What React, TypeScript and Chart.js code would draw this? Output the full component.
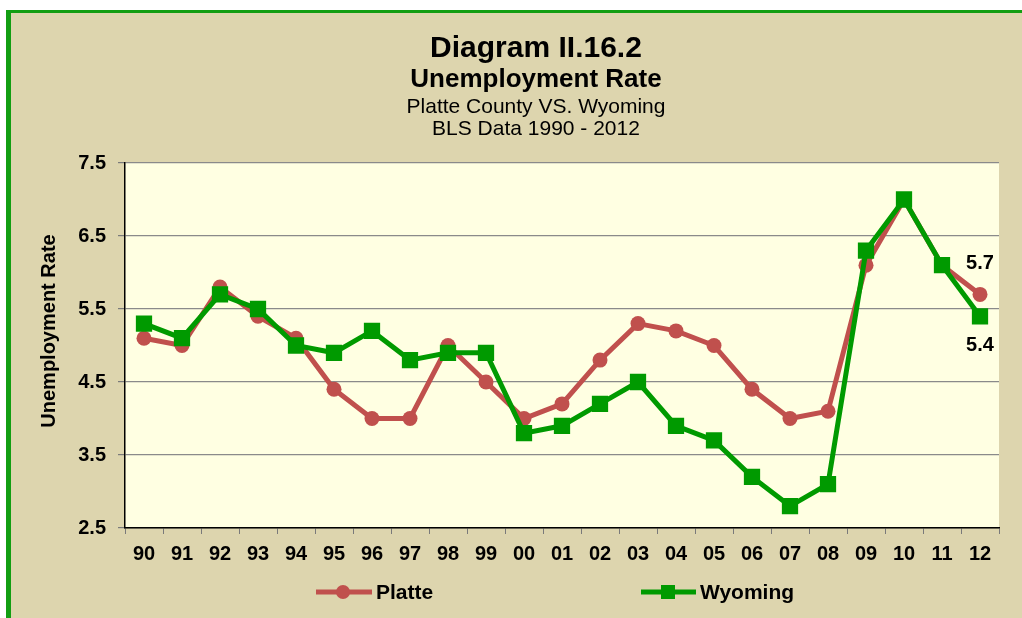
import React, { useEffect, useRef } from 'react';
import { Chart, registerables } from 'chart.js';

Chart.register(...registerables);

const years = ['90', '91', '92', '93', '94', '95', '96', '97', '98', '99', '00', '01', '02', '03', '04', '05', '06', '07', '08', '09', '10', '11', '12'];
const platte = [5.1, 5.0, 5.8, 5.4, 5.1, 4.4, 4.0, 4.0, 5.0, 4.5, 4.0, 4.2, 4.8, 5.3, 5.2, 5.0, 4.4, 4.0, 4.1, 6.1, 7.0, 6.1, 5.7];
const wyoming = [5.3, 5.1, 5.7, 5.5, 5.0, 4.9, 5.2, 4.8, 4.9, 4.9, 3.8, 3.9, 4.2, 4.5, 3.9, 3.7, 3.2, 2.8, 3.1, 6.3, 7.0, 6.1, 5.4];
const yTicks = [2.5, 3.5, 4.5, 5.5, 6.5, 7.5];
const titleLines = ['Diagram II.16.2', 'Unemployment Rate', 'Platte County VS. Wyoming', 'BLS Data 1990 - 2012'];
const yAxisTitle = 'Unemployment Rate';
const seriesNames = ['Platte', 'Wyoming'];

const RED = '#C0504D';
const GREEN = '#009A00';
const TAN = '#DDD5AE';
const PLOT_BG = '#FFFFE2';
const BORDER_GREEN = '#129E12';
const FONT = '"Liberation Sans", Arial, sans-serif';

const decorPlugin = {
  id: 'decor',
  beforeDraw(chart: any) {
    const ctx = chart.ctx;
    const { width, height } = chart;
    ctx.save();
    ctx.fillStyle = '#FFFFFF';
    ctx.fillRect(0, 0, width, height);
    ctx.fillStyle = TAN;
    ctx.fillRect(11, 13, width - 11, height - 13);
    ctx.fillStyle = BORDER_GREEN;
    ctx.fillRect(6, 10, 5, height - 10);
    ctx.fillRect(6, 10, width - 6, 3);
    const a = chart.chartArea;
    ctx.fillStyle = PLOT_BG;
    ctx.fillRect(a.left, a.top, a.right - a.left, a.bottom - a.top);
    ctx.restore();
  },
  afterDraw(chart: any) {
    const ctx = chart.ctx;
    ctx.save();
    ctx.fillStyle = '#000';
    ctx.textAlign = 'center';
    ctx.textBaseline = 'alphabetic';
    const cx = 536;
    ctx.font = `bold 30px ${FONT}`;
    ctx.fillText(titleLines[0], cx, 57);
    ctx.font = `bold 26px ${FONT}`;
    ctx.fillText(titleLines[1], cx, 87);
    ctx.font = `21px ${FONT}`;
    ctx.fillText(titleLines[2], cx, 113);
    ctx.fillText(titleLines[3], cx, 135);

    // y axis title
    ctx.save();
    ctx.translate(49, 331);
    ctx.rotate(-Math.PI / 2);
    ctx.font = `bold 20px ${FONT}`;
    ctx.textBaseline = 'middle';
    ctx.fillText(yAxisTitle, 0, 0);
    ctx.restore();

    // data labels on last points
    ctx.font = `bold 20px ${FONT}`;
    ctx.textBaseline = 'middle';
    const mP = chart.getDatasetMeta(1);
    const mW = chart.getDatasetMeta(0);
    const pP = mP.data[mP.data.length - 1];
    const pW = mW.data[mW.data.length - 1];
    ctx.fillText(platte[platte.length - 1].toFixed(1), pP.x, pP.y - 31);
    ctx.fillText(wyoming[wyoming.length - 1].toFixed(1), pW.x, pW.y + 29);

    // legend
    const ly = 592;
    ctx.lineWidth = 5;
    ctx.strokeStyle = RED;
    ctx.beginPath();
    ctx.moveTo(316, ly);
    ctx.lineTo(372, ly);
    ctx.stroke();
    ctx.fillStyle = RED;
    ctx.beginPath();
    ctx.arc(343, ly, 7, 0, Math.PI * 2);
    ctx.fill();
    ctx.strokeStyle = GREEN;
    ctx.beginPath();
    ctx.moveTo(641, ly);
    ctx.lineTo(696, ly);
    ctx.stroke();
    ctx.fillStyle = GREEN;
    ctx.fillRect(668 - 7, ly - 7, 14, 14);
    ctx.fillStyle = '#000';
    ctx.textAlign = 'left';
    ctx.textBaseline = 'alphabetic';
    ctx.font = `bold 21px ${FONT}`;
    ctx.fillText(seriesNames[0], 376, 599);
    ctx.fillText(seriesNames[1], 700, 599);
    ctx.restore();
  },
};

export default function App() {
  const ref = useRef<HTMLCanvasElement>(null);
  useEffect(() => {
    if (!ref.current) return;
    const chart = new Chart(ref.current, {
      type: 'line',
      data: {
        labels: years,
        datasets: [
          {
            label: seriesNames[1],
            data: wyoming,
            borderColor: GREEN,
            backgroundColor: GREEN,
            borderWidth: 5,
            pointStyle: 'rect',
            pointRadius: 11.5,
            pointBorderWidth: 0,
            tension: 0,
          },
          {
            label: seriesNames[0],
            data: platte,
            borderColor: RED,
            backgroundColor: RED,
            borderWidth: 5,
            pointStyle: 'circle',
            pointRadius: 7.5,
            pointBorderWidth: 0,
            tension: 0,
          },
        ],
      },
      options: {
        responsive: false,
        animation: false,
        events: [],
        layout: { padding: { top: 163, right: 23, left: 0, bottom: 0 } },
        plugins: { legend: { display: false }, title: { display: false }, tooltip: { enabled: false } },
        scales: {
          x: {
            type: 'category',
            offset: true,
            afterFit: (s: any) => { s.height = 90; },
            grid: { offset: true, drawOnChartArea: false, tickLength: 6, color: '#7a7a7a', tickColor: '#7a7a7a' },
            border: { display: true, color: '#000', width: 1.5 },
            ticks: { font: { family: FONT, size: 20, weight: 'bold' }, color: '#000', padding: 8, maxRotation: 0, autoSkip: false },
          },
          y: {
            min: 2.5,
            max: 7.5,
            afterFit: (s: any) => { s.width = 125; },
            afterBuildTicks: (s: any) => { s.ticks = yTicks.map((v) => ({ value: v })); },
            grid: { color: '#8a8a8a', tickColor: '#7a7a7a', tickLength: 7, lineWidth: 1.2 },
            border: { display: true, color: '#000', width: 1.5 },
            ticks: { font: { family: FONT, size: 20, weight: 'bold' }, color: '#000', padding: 12, callback: (v: any) => Number(v).toFixed(1) },
          },
        },
      },
      plugins: [decorPlugin],
    });
    return () => chart.destroy();
  }, []);
  return (
    <div style={{ position: 'absolute', left: 0, top: 0, width: 1022, height: 618 }}>
      <canvas ref={ref} width={1022} height={618} style={{ display: 'block' }} />
    </div>
  );
}
